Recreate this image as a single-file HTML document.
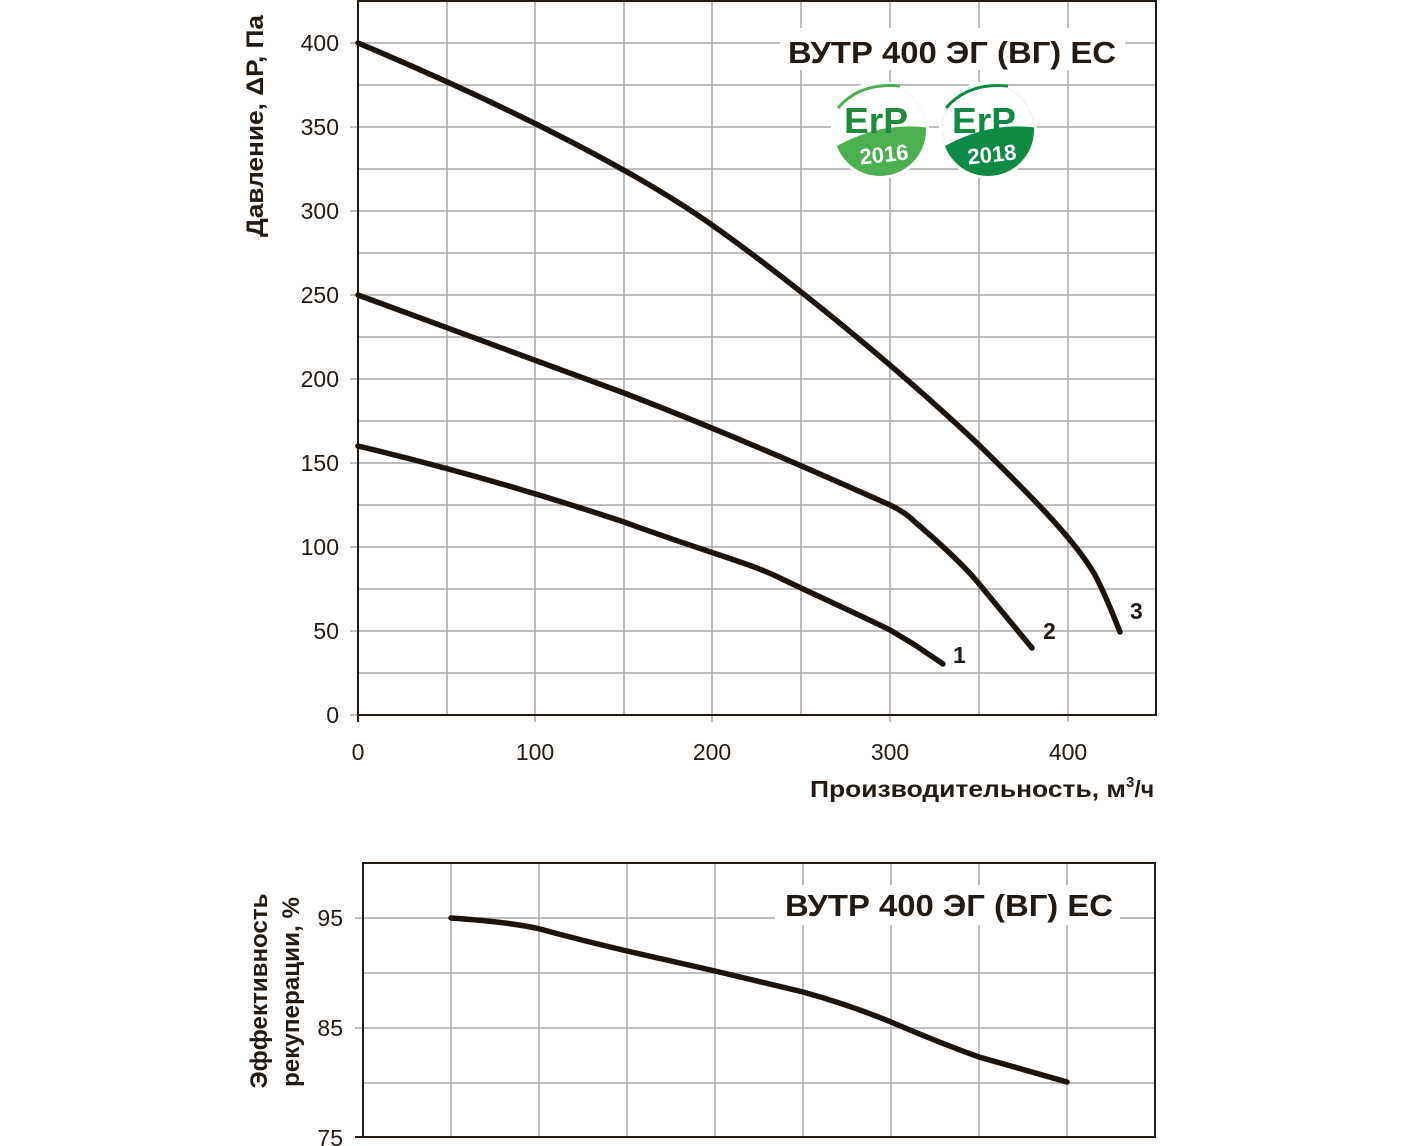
<!DOCTYPE html>
<html><head><meta charset="utf-8"><style>
html,body{margin:0;padding:0;background:#fff;}
svg{display:block;font-family:"Liberation Sans",sans-serif;}
</style></head><body>
<svg width="1401" height="1146" viewBox="0 0 1401 1146" xmlns="http://www.w3.org/2000/svg">
<defs>
<clipPath id="c1"><circle cx="880" cy="130" r="46"/></clipPath>
<clipPath id="c2"><circle cx="988" cy="130" r="46"/></clipPath>
</defs>
<g stroke="#a8a8a8" stroke-width="1.5">
<line x1="447" y1="1" x2="447" y2="715"/><line x1="535" y1="1" x2="535" y2="722"/>
<line x1="624" y1="1" x2="624" y2="715"/><line x1="712" y1="1" x2="712" y2="722"/>
<line x1="801" y1="1" x2="801" y2="715"/><line x1="890" y1="1" x2="890" y2="722"/>
<line x1="979" y1="1" x2="979" y2="715"/><line x1="1068" y1="1" x2="1068" y2="722"/>
<line x1="350" y1="43" x2="1156" y2="43"/><line x1="358" y1="85" x2="1156" y2="85"/>
<line x1="350" y1="127" x2="1156" y2="127"/><line x1="358" y1="169" x2="1156" y2="169"/>
<line x1="350" y1="211" x2="1156" y2="211"/><line x1="358" y1="253" x2="1156" y2="253"/>
<line x1="350" y1="295" x2="1156" y2="295"/><line x1="358" y1="337" x2="1156" y2="337"/>
<line x1="350" y1="379" x2="1156" y2="379"/><line x1="358" y1="421" x2="1156" y2="421"/>
<line x1="350" y1="463" x2="1156" y2="463"/><line x1="358" y1="505" x2="1156" y2="505"/>
<line x1="350" y1="547" x2="1156" y2="547"/><line x1="358" y1="589" x2="1156" y2="589"/>
<line x1="350" y1="631" x2="1156" y2="631"/><line x1="358" y1="673" x2="1156" y2="673"/>
<line x1="350" y1="715" x2="358" y2="715"/>
</g>
<rect x="358" y="1" width="798" height="714" fill="none" stroke="#231a14" stroke-width="2"/>
<line x1="358" y1="715" x2="358" y2="722" stroke="#231a14" stroke-width="2"/>
<rect x="780" y="28" width="345" height="42" fill="#fff"/>
<text x="788" y="63" textLength="328" lengthAdjust="spacingAndGlyphs" font-size="31" font-weight="bold" fill="#231a14">ВУТР 400 ЭГ (ВГ) ЕС</text>
<g font-size="23" fill="#231a14" text-anchor="end">
<text x="339" y="51">400</text><text x="339" y="135">350</text><text x="339" y="219">300</text>
<text x="339" y="303">250</text><text x="339" y="387">200</text><text x="339" y="471">150</text>
<text x="339" y="555">100</text><text x="339" y="639">50</text><text x="339" y="723">0</text>
</g>
<g font-size="23" fill="#231a14" text-anchor="middle">
<text x="358" y="760">0</text><text x="535" y="760">100</text><text x="712" y="760">200</text>
<text x="890" y="760">300</text><text x="1068" y="760">400</text>
</g>
<text x="810" y="797" font-size="23" font-weight="bold" fill="#231a14"><tspan textLength="316" lengthAdjust="spacingAndGlyphs">Производительность, м</tspan><tspan font-size="15" dy="-10">3</tspan><tspan dy="10">/ч</tspan></text>
<text transform="translate(263,126) rotate(-90)" text-anchor="middle" textLength="222" lengthAdjust="spacingAndGlyphs" font-size="24" font-weight="bold" fill="#231a14">Давление, ΔР, Па</text>
<!-- logos -->
<circle cx="880" cy="130" r="49" fill="#fff"/>
<g clip-path="url(#c1)">
<rect x="830" y="80" width="100" height="100" fill="#4cb050"/>
<path d="M830,80 L930,80 L930,128 Q880,120 830,150 Z" fill="#fff"/>
</g>
<path d="M838,108 Q860,82 900,86" fill="none" stroke="#4cb050" stroke-width="3"/>
<text x="876" y="133" text-anchor="middle" font-size="36" font-weight="bold" fill="#1f8a3e" textLength="64" lengthAdjust="spacingAndGlyphs">ErP</text>
<text x="884" y="162" text-anchor="middle" font-size="22" font-weight="bold" fill="#fff" transform="rotate(-6 884 155)">2016</text>
<circle cx="988" cy="130" r="49" fill="#fff"/>
<g clip-path="url(#c2)">
<rect x="938" y="80" width="100" height="100" fill="#0f8a45"/>
<path d="M938,80 L1038,80 L1038,128 Q988,120 938,150 Z" fill="#fff"/>
</g>
<path d="M946,108 Q968,82 1008,86" fill="none" stroke="#0f8a45" stroke-width="3"/>
<text x="984" y="133" text-anchor="middle" font-size="36" font-weight="bold" fill="#0f8a45" textLength="64" lengthAdjust="spacingAndGlyphs">ErP</text>
<text x="992" y="162" text-anchor="middle" font-size="22" font-weight="bold" fill="#fff" transform="rotate(-6 992 155)">2018</text>
<g fill="none" stroke="#1c130d" stroke-width="5.5" stroke-linecap="round" stroke-linejoin="round">
<path d="M358,43 C470,90 620,160 712,225 C790,280 900,370 979,445 C1030,495 1075,540 1095,575 C1108,600 1115,620 1120,632"/>
<path d="M358,295 C450,328 540,362 624,393 C720,430 800,465 890,505 Q905,512 915,522 C950,552 968,570 980,585 L1032,648"/>
<path d="M358,446 C450,468 540,494 624,522 C700,550 750,563 780,578 C830,602 860,615 890,630 L915,645 L943,664"/>
</g>
<g font-size="23" font-weight="bold" fill="#231a14">
<text x="953" y="663">1</text><text x="1043" y="639">2</text><text x="1130" y="619">3</text>
</g>
<!-- bottom chart -->
<g stroke="#a8a8a8" stroke-width="1.5">
<line x1="451" y1="863" x2="451" y2="1137"/><line x1="539" y1="863" x2="539" y2="1137"/>
<line x1="627" y1="863" x2="627" y2="1137"/><line x1="715" y1="863" x2="715" y2="1137"/>
<line x1="803" y1="863" x2="803" y2="1137"/><line x1="891" y1="863" x2="891" y2="1137"/>
<line x1="979" y1="863" x2="979" y2="1137"/><line x1="1067" y1="863" x2="1067" y2="1137"/>
<line x1="355" y1="918" x2="1155" y2="918"/><line x1="363" y1="973" x2="1155" y2="973"/>
<line x1="355" y1="1028" x2="1155" y2="1028"/><line x1="363" y1="1083" x2="1155" y2="1083"/>
</g>
<rect x="363" y="863" width="792" height="274" fill="none" stroke="#231a14" stroke-width="2"/>
<line x1="355" y1="1137" x2="363" y2="1137" stroke="#231a14" stroke-width="2"/>
<rect x="775" y="885" width="345" height="40" fill="#fff"/>
<text x="785" y="916" textLength="328" lengthAdjust="spacingAndGlyphs" font-size="31" font-weight="bold" fill="#231a14">ВУТР 400 ЭГ (ВГ) ЕС</text>
<g font-size="23" fill="#231a14" text-anchor="end">
<text x="343" y="926">95</text><text x="343" y="1036">85</text><text x="343" y="1146">75</text>
</g>
<text transform="translate(267,991) rotate(-90)" text-anchor="middle" textLength="195" lengthAdjust="spacingAndGlyphs" font-size="24" font-weight="bold" fill="#231a14">Эффективность</text>
<text transform="translate(299,992) rotate(-90)" text-anchor="middle" textLength="190" lengthAdjust="spacingAndGlyphs" font-size="24" font-weight="bold" fill="#231a14">рекуперации, %</text>
<path d="M451,918 Q510,922 540,929 Q580,940 627,951 L715,971 Q770,984 803,992 Q850,1005 891,1022 Q940,1043 979,1057 L1067,1082" fill="none" stroke="#1c130d" stroke-width="5.5" stroke-linecap="round"/>
</svg>
</body></html>
